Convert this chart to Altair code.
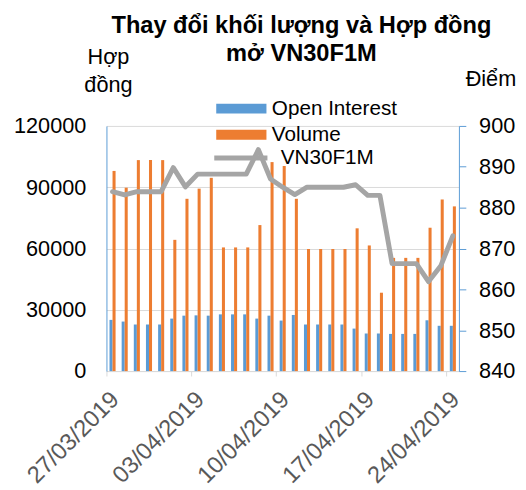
import altair as alt
import pandas as pd

FONT = "Liberation Sans"

dates = [
    "27/03/2019", "28/03/2019", "29/03/2019", "30/03/2019", "31/03/2019",
    "01/04/2019", "02/04/2019", "03/04/2019", "04/04/2019", "05/04/2019",
    "06/04/2019", "07/04/2019", "08/04/2019", "09/04/2019", "10/04/2019",
    "11/04/2019", "12/04/2019", "13/04/2019", "14/04/2019", "15/04/2019",
    "16/04/2019", "17/04/2019", "18/04/2019", "19/04/2019", "20/04/2019",
    "21/04/2019", "22/04/2019", "23/04/2019", "24/04/2019",
]
open_interest = [
    25060, 24240, 22800, 22800, 22800, 25690, 27130, 27280, 27130, 27760,
    27760, 27760, 25690, 27130, 24720, 27470, 22800, 22800, 22800, 22800,
    20800, 18400, 18400, 18200, 18200, 18200, 24870, 22170, 22170,
]
volume = [
    97970, 89780, 103270, 103270, 103270, 64240, 84330, 89300, 94600, 60530,
    60530, 60530, 71470, 102300, 100380, 84330, 59760, 59760, 59760, 59760,
    69880, 61500, 38360, 55420, 55420, 55420, 70170, 84000, 80620,
]
vn30f1m = [
    883.9, 883.1, 883.9, 883.9, 883.9, 889.8, 885.1, 888.2, 888.2, 888.2,
    888.2, 888.2, 894.2, 887.0, 885.0, 883.2, 885.0, 885.0, 885.0, 885.0,
    885.6, 883.0, 883.0, 866.3, 866.3, 866.3, 861.9, 865.7, 873.1,
]
tick_dates = ["27/03/2019", "03/04/2019", "10/04/2019", "17/04/2019", "24/04/2019"]
left_ticks = [0, 30000, 60000, 90000, 120000]
right_ticks = [840, 850, 860, 870, 880, 890, 900]
bar_series = ["Open Interest", "Volume"]
bar_colors = ["#5b9bd5", "#ed7d31"]
line_series = ["VN30F1M"]
line_colors = ["#a5a5a5"]

n = len(dates)
bars_df = pd.DataFrame({
    "date": dates * 2,
    "series": [bar_series[0]] * n + [bar_series[1]] * n,
    "value": open_interest + volume,
})
line_df = pd.DataFrame({"date": dates, "series": line_series * n, "value": vn30f1m})

x_enc = alt.X(
    "date:N", sort=dates,
    scale=alt.Scale(paddingInner=0, paddingOuter=0),
    axis=alt.Axis(
        values=tick_dates, bandPosition=0, labelAngle=-45, labelAlign="right",
        labelBaseline="middle", labelFontSize=24, labelColor="#595959",
        labelPadding=20, labelOffset=3, tickSize=5, tickColor="#d9d9d9",
        domainColor="#d9d9d9", labelOverlap=False, title=None, grid=False,
        labelFont=FONT,
    ),
)

bars = alt.Chart(bars_df).mark_bar().encode(
    x=x_enc,
    xOffset=alt.XOffset("series:N", sort=bar_series,
                        scale=alt.Scale(paddingInner=0, paddingOuter=1.0)),
    y=alt.Y(
        "value:Q", scale=alt.Scale(domain=[0, 120000], nice=False),
        axis=alt.Axis(
            orient="left", values=left_ticks, format="d",
            title=["Hợp", "đồng"], titleAngle=0, titleX=1.5, titleY=-63,
            titleAlign="center", titleBaseline="alphabetic", titleFontSize=22,
            titleFontWeight="normal", titleLineHeight=28, titleFont=FONT, titleColor="#000000",
            labelFontSize=22, labelPadding=21, labelFont=FONT, labelColor="#000000",
            ticks=False, tickSize=0, domainColor="#5b9bd5", gridColor="#d9d9d9",
        ),
    ),
    color=alt.Color(
        "series:N", scale=alt.Scale(domain=bar_series, range=bar_colors),
        legend=alt.Legend(
            title=None, orient="none", legendX=126.5, legendY=-28,
            symbolType="M-5.1,-1H5.1V1H-5.1Z", symbolSize=100,
            symbolStrokeWidth=0, labelFontSize=21, labelFont=FONT, labelColor="#000000",
            labelOffset=20.5, rowPadding=4.5, padding=0,
        ),
    ),
)

line = alt.Chart(line_df).mark_line(strokeWidth=5, strokeJoin="round", strokeCap="round").encode(
    x=x_enc,
    y=alt.Y(
        "value:Q", scale=alt.Scale(domain=[840, 900], nice=False, zero=False),
        axis=alt.Axis(
            orient="right", values=right_ticks, format="d", grid=False,
            title="Điểm", titleAngle=0, titleX=32, titleY=-41,
            titleAlign="center", titleBaseline="alphabetic", titleFontSize=22,
            titleFontWeight="normal", titleFont=FONT, titleColor="#000000",
            labelFontSize=22, labelPadding=13, labelFont=FONT, labelColor="#000000",
            tickSize=7, tickColor="#5b9bd5", domainColor="#5b9bd5",
        ),
    ),
    stroke=alt.Stroke(
        "series:N", scale=alt.Scale(domain=line_series, range=line_colors),
        legend=alt.Legend(
            title=None, orient="none", legendX=126, legendY=22,
            symbolType="M-5.4,0H5.4", symbolSize=100, symbolStrokeWidth=5,
            labelFontSize=21, labelFont=FONT, labelColor="#000000",
            labelOffset=30, padding=0,
        ),
    ),
)

chart = alt.layer(bars, line).resolve_scale(y="independent", color="independent").properties(
    width=358, height=249,
    title=alt.TitleParams(
        text=["Thay đổi khối lượng và Hợp đồng", "mở VN30F1M"],
        fontSize=24, fontWeight="bold", font=FONT, color="#000000",
        anchor="middle", frame="group", dx=19, dy=24, lineHeight=28,
    ),
    autosize=alt.AutoSizeParams(type="none"),
    padding={"left": 100, "top": 116, "right": 60, "bottom": 117},
).configure_view(stroke=None)

chart.save("out.html", embed_options={"renderer": "svg", "actions": False})
